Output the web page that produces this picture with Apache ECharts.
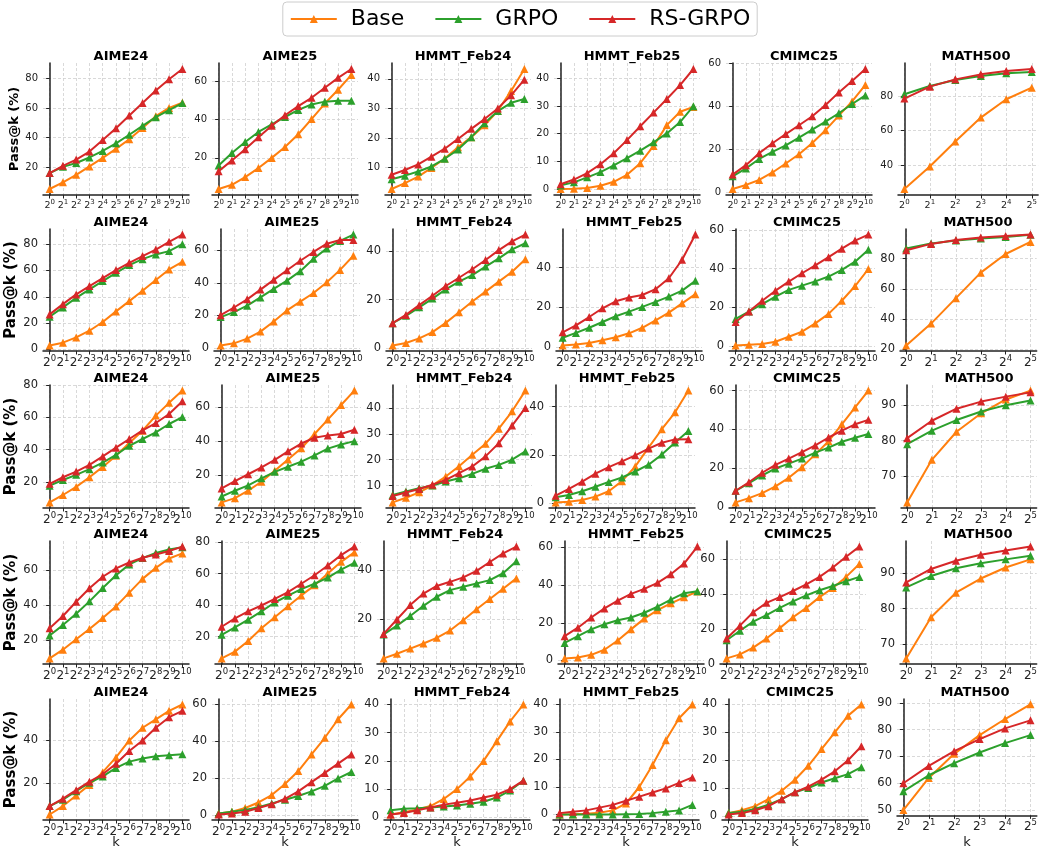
<!DOCTYPE html>
<html>
<head>
<meta charset="utf-8">
<title>Pass@k</title>
<script src="https://cdn.jsdelivr.net/npm/echarts@6/dist/echarts.min.js"></script>
<style>
html, body { margin: 0; padding: 0; background: #fff; }
#main { width: 1040px; height: 850px; }
</style>
</head>
<body>
<div id="main"></div>
<script>
var benchmarks = ['AIME24', 'AIME25', 'HMMT_Feb24', 'HMMT_Feb25', 'CMIMC25', 'MATH500'];
var methods = ['Base', 'GRPO', 'RS-GRPO'];
var colors = ['#ff7f0e', '#2ca02c', '#d62728'];
var kExp = [0, 1, 2, 3, 4, 5, 6, 7, 8, 9, 10];     // k = 2^n
var kExpMath = [0, 1, 2, 3, 4, 5];

// row 1
var row1Base = [
  [5.5, 10, 15, 20.7, 26.4, 32.5, 39, 46.5, 54.5, 60, 63.5],
  [3.8, 6, 10, 14.7, 20, 25.7, 32.3, 40.2, 48.3, 55.5, 63.2],
  [2.8, 4.8, 7, 9.9, 13.1, 16.9, 20.3, 24.3, 29.2, 35.9, 43.3],
  [0.1, 0.2, 0.5, 1.3, 2.7, 5.2, 9.4, 15.6, 23.1, 27.9, 29.6],
  [1.5, 3.4, 5.7, 9.2, 13.4, 17.7, 22.9, 28.9, 35.7, 42.3, 50],
  [26.2, 39.2, 53.7, 67.5, 78.1, 84.8]
];
var row1Grpo = [
  [16.2, 20.4, 23, 26.7, 31.1, 36.2, 42, 48, 53.8, 58.5, 63.3],
  [16, 22.5, 28.3, 33.5, 37.5, 41.3, 45, 47.8, 49.3, 49.8, 49.8],
  [6.1, 7.3, 8.7, 10.4, 13, 16.1, 20.3, 25, 29.1, 31.9, 33.2],
  [1.4, 2.5, 4.3, 6.2, 8.6, 11.2, 13.9, 16.9, 20.1, 24.2, 29.9],
  [7.4, 11.1, 15.5, 18.8, 21.8, 25.4, 29.2, 32.9, 36.8, 41.1, 45.1],
  [81, 85.8, 89.2, 91.5, 93.1, 93.8]
];
var row1Rs = [
  [16.2, 21.1, 25.3, 30.7, 38.4, 46.4, 54.9, 63.3, 71.8, 79.3, 86.2],
  [13, 18.7, 24.5, 30.8, 36.7, 42.2, 47, 51.3, 56.5, 61.7, 66.3],
  [7.6, 9.2, 11.1, 13.7, 16.4, 19.7, 23.1, 26.4, 30, 34.4, 39.7],
  [1.8, 3.5, 5.8, 9, 13, 17.7, 22.7, 27.6, 32.5, 37.5, 43.3],
  [8.2, 12.6, 18.2, 22.8, 27.1, 31.2, 35.4, 40.6, 46.5, 51.8, 57.4],
  [78.5, 85.4, 89.6, 92.5, 94.4, 95.6]
];
var row1Ticks = [[20, 40, 60, 80], [20, 40, 60], [10, 20, 30, 40], [0, 10, 20, 30, 40], [0, 20, 40, 60], [40, 60, 80]];

// row 2
var row2Base = [
  [3, 5.1, 9.1, 14.2, 20.8, 28.9, 36.7, 44.6, 52.7, 60.8, 66.6],
  [1.6, 2.9, 5.8, 10.1, 16.3, 23.1, 28.5, 33.8, 40.4, 48, 56.7],
  [1.1, 2.1, 4, 6.6, 10.4, 14.8, 19.2, 23.3, 27.4, 31.5, 36.6],
  [0.8, 1.3, 2, 3.4, 4.9, 6.9, 9.7, 13.4, 17.3, 22, 26.6],
  [0.3, 0.7, 1, 2.2, 4.8, 7.4, 11.7, 16.6, 23.4, 31, 39.8],
  [22.4, 36.9, 53.8, 70.7, 83.1, 91.1]
];
var row2Grpo = [
  [24.8, 31.9, 39.2, 45.6, 51.9, 58.2, 64.1, 68.6, 72.2, 74.7, 80],
  [19, 22.1, 26, 31.1, 36.3, 41.4, 47.2, 54.8, 61.2, 65.8, 69.7],
  [10.3, 13.3, 16.8, 20.4, 24.2, 27.4, 30.1, 33.6, 37, 40.7, 43.2],
  [4.7, 7.1, 9.7, 12.6, 15.5, 17.8, 20.2, 22.7, 25.4, 28.4, 33.3],
  [14, 17.8, 21.6, 25.5, 29, 31.2, 33.4, 35.9, 39.3, 43.6, 49.7],
  [86.7, 90, 92, 93.3, 94.4, 95.8]
];
var row2Rs = [
  [26.6, 34.4, 41.8, 48.1, 54.2, 60.3, 65.8, 70.9, 75.9, 81.8, 87.3],
  [20.2, 24.9, 29.9, 35.9, 41.9, 47.8, 53.6, 59, 64.1, 66.4, 66.4],
  [10.3, 13.7, 17.7, 21.6, 25.6, 29, 32.5, 36.3, 40.4, 44, 46.8],
  [7.4, 10.9, 15.1, 19.5, 23, 24.9, 26.2, 29.1, 34.6, 43.9, 56.6],
  [12.4, 17.8, 23.4, 28.6, 33.3, 37.6, 41.7, 45.9, 50.3, 54.5, 57.6],
  [85.6, 89.8, 92.4, 94, 95.1, 96]
];
var row2Ticks = [[0, 20, 40, 60, 80], [0, 20, 40, 60], [0, 20, 40], [0, 20, 40], [0, 20, 40, 60], [20, 40, 60, 80]];

// row 3
var row3Base = [
  [7.3, 11.9, 16.9, 22.9, 29.3, 36.2, 44.1, 51.7, 61.1, 69, 76.6],
  [3.8, 6.3, 10.7, 16, 22.4, 29.1, 35.7, 44.1, 52.6, 61.2, 69.7],
  [3.5, 5.3, 7.4, 10.1, 13.5, 17.5, 21.9, 26.2, 32, 38.7, 46.7],
  [0.3, 0.6, 1.3, 2.7, 4.9, 9.1, 15.2, 23, 30.6, 37.6, 46.6],
  [2.3, 4.5, 7.1, 10.6, 15, 20.5, 27.1, 33.9, 42.6, 51.3, 60],
  [62.6, 74.6, 82.5, 87.7, 91.6, 94.1]
];
var row3Grpo = [
  [17.7, 21.2, 24.4, 27.9, 32, 36.8, 42.4, 46.6, 50.7, 55.9, 60.2],
  [7.3, 10.7, 13.8, 18, 21.8, 24.8, 27.8, 31.5, 35.5, 37.9, 39.9],
  [6.4, 7.7, 9, 10, 11.6, 12.8, 14.5, 16.5, 18, 20, 23.2],
  [2.4, 3.4, 4.9, 6.8, 8.8, 10.6, 13.1, 15.9, 20.1, 25.1, 29.9],
  [8.3, 12.2, 16.2, 19.8, 22.3, 24.9, 28, 30.6, 33.6, 35.7, 37.6],
  [79, 82.8, 85.8, 88.2, 90, 91.3]
];
var row3Rs = [
  [18.8, 22.9, 26.4, 30.6, 35.8, 41.2, 46.6, 52, 56.5, 62.1, 70],
  [12, 16.4, 20.4, 24.4, 28.9, 33.9, 38.5, 41.9, 43.3, 44.1, 46.6],
  [6, 7.3, 8.7, 10.3, 12.2, 14.8, 17.4, 21.3, 26.4, 33.2, 40],
  [3.1, 5.9, 8.9, 12.2, 14.9, 17.3, 19.8, 22.6, 25, 26.4, 26.5],
  [8.3, 12.7, 17.6, 21.7, 24.9, 28.2, 31.7, 35.8, 39.3, 42.6, 44.9],
  [80.7, 85.6, 89, 91, 92.4, 93.6]
];
var row3Ticks = [[20, 40, 60, 80], [20, 40, 60], [10, 20, 30, 40], [0, 20, 40], [0, 20, 40, 60], [70, 80, 90]];

// row 4
var row4Base = [
  [9.4, 14.4, 20.4, 26.3, 32.5, 39.2, 47.1, 55, 61.3, 66.7, 69.6],
  [6.1, 10.4, 17.2, 25.3, 32.2, 39.2, 46.1, 52.5, 60, 67.4, 73.4],
  [3.8, 5.7, 7.8, 9.9, 12.2, 15.2, 19.4, 23.9, 28.1, 32.3, 36.5],
  [1.1, 1.6, 3, 5.7, 10.6, 16.5, 22.2, 26.7, 30.3, 33.5, 36.6],
  [3.1, 5.4, 9.3, 14.5, 20.5, 26.7, 32.1, 38.3, 43.5, 49.9, 57.3],
  [66, 77.6, 84.5, 88.5, 91.6, 93.9]
];
var row4Grpo = [
  [22.5, 28.5, 35, 42.1, 49.8, 57.1, 63.3, 66.9, 69.8, 71.9, 73.1],
  [21.1, 25.8, 30.7, 36, 41.6, 45.9, 50.1, 53.5, 57.4, 62.5, 66.8],
  [13.6, 17.2, 21.1, 25.3, 29, 31.7, 33.1, 34.4, 35.8, 38.6, 43.5],
  [9.3, 12.9, 16.5, 19.2, 21.3, 22.8, 25.3, 28.5, 32.3, 35.7, 36.7],
  [13.5, 19, 24.2, 28, 32.1, 35.8, 39.3, 42.2, 44.7, 47.4, 49.9],
  [86, 89.2, 91.4, 92.8, 93.9, 94.9]
];
var row4Rs = [
  [26.7, 33.7, 41.9, 49.6, 56.2, 61, 64.4, 67.1, 69, 71, 73.5],
  [26.2, 31.5, 36, 39.7, 43.9, 48.2, 53.5, 58.9, 65.1, 71.7, 77.1],
  [13.8, 19.7, 25.6, 30.3, 33.4, 35.1, 36.9, 39.6, 43.2, 46.7, 49.5],
  [12.9, 17.4, 22.8, 27.6, 31.7, 35.3, 38, 41.2, 45.7, 51.4, 60.4],
  [14.5, 21.9, 29.6, 35, 38.3, 41.8, 45.6, 49.9, 55.3, 61.5, 67.3],
  [87.4, 91.2, 93.5, 95.2, 96.4, 97.5]
];
var row4Ticks = [[20, 40, 60], [20, 40, 60, 80], [20, 40], [0, 20, 40, 60], [0, 20, 40, 60], [70, 80, 90]];

// row 5
var row5Base = [
  [5, 9, 14, 19, 25, 32, 40, 46, 50, 54, 57],
  [1, 2, 4, 7, 11, 17, 24, 33, 42, 52, 60],
  [1, 1.8, 2.8, 4, 6.5, 10, 14.5, 20, 27, 34, 40],
  [0, 0.1, 0.3, 0.6, 1.5, 4, 10, 18, 27, 35, 40],
  [1, 2, 3.5, 6, 9, 13, 18, 24, 30, 36, 40],
  [50, 62, 71, 78, 84, 89.5]
];
var row5Grpo = [
  [9, 12, 16, 20, 23, 27, 30, 31.5, 32.5, 33, 33.5],
  [1, 2, 3, 4.5, 6.5, 8.5, 10.5, 13, 16, 20, 23.5],
  [2.5, 3, 3.2, 3.5, 3.8, 4.2, 4.8, 5.5, 7, 9.5, 13],
  [0, 0, 0, 0, 0, 0.1, 0.2, 0.5, 1, 1.5, 3.5],
  [1, 1.5, 2.5, 4, 6, 8.5, 10, 12, 13.5, 15, 17.5],
  [57, 63, 67.5, 71.5, 75, 78]
];
var row5Rs = [
  [9, 12.5, 16.5, 20.5, 24, 29, 35, 40, 46, 51, 54],
  [0.5, 1, 2, 4, 6, 9, 13, 18, 23, 28, 33],
  [1, 1.5, 2.5, 3.5, 4.5, 5.2, 6, 7, 8, 10, 13],
  [0.5, 1, 1.5, 2.5, 3.5, 5, 6.5, 8, 9.5, 11.5, 13.5],
  [0.5, 1, 2, 3.5, 6, 8.5, 10.5, 13, 16, 20, 25],
  [60, 66.5, 72, 76.5, 80.5, 83.5]
];
var row5Ticks = [[20, 40], [0, 20, 40, 60], [0, 10, 20, 30, 40], [0, 10, 20, 30, 40], [0, 10, 20, 30, 40], [50, 60, 70, 80, 90]];

var rows = [
  { sets: [row1Base, row1Grpo, row1Rs], ticks: row1Ticks },
  { sets: [row2Base, row2Grpo, row2Rs], ticks: row2Ticks },
  { sets: [row3Base, row3Grpo, row3Rs], ticks: row3Ticks },
  { sets: [row4Base, row4Grpo, row4Rs], ticks: row4Ticks },
  { sets: [row5Base, row5Grpo, row5Rs], ticks: row5Ticks }
];

// layout
var rowTop = [63, 229, 385, 541, 699];
var rowHeight = [132, 122, 123, 123, 121];
var colLeft = [
  [43, 212, 385, 554, 726, 898],
  [43, 214, 386, 556, 729, 900],
  [43, 215, 386, 549, 729, 901],
  [43, 215, 377, 558, 720, 900],
  [43, 212, 384, 553, 722, 897]
];
var colWidth = 146;
var FONT = 'DejaVu Sans';
var INK = '#222';

var grids = [], xAxes = [], yAxes = [], titles = [], series = [];

function powLabel(v) { return '{b|2}{s|' + v + '}'; }

rows.forEach(function (row, r) {
  var small = r === 0;
  var yFont = small ? 10 : 11.5;
  var xb = small ? 9.5 : 12, xs = small ? 7 : 8.5;
  var rich = {
    b: { fontFamily: FONT, fontSize: xb, color: INK, lineHeight: xb + 3 },
    s: { fontFamily: FONT, fontSize: xs, color: INK, lineHeight: xs - 1, padding: [0, 0, xb + 4 - xs, 0] }
  };
  benchmarks.forEach(function (name, c) {
    var idx = grids.length;
    var isMath = c === 5;
    var kx = isMath ? kExpMath : kExp;
    var all = [];
    row.sets.forEach(function (s) { all = all.concat(s[c]); });
    var lo = Math.min.apply(null, all), hi = Math.max.apply(null, all);
    var pad = (hi - lo) * 0.05;
    var left = colLeft[r][c];

    grids.push({ left: left, top: rowTop[r], width: colWidth, height: rowHeight[r], containLabel: false });

    titles.push({
      text: name,
      left: left + colWidth / 2,
      top: rowTop[r] - 18,
      textAlign: 'center',
      textStyle: { fontFamily: FONT, fontSize: 13, fontWeight: 'bold', color: '#000' }
    });

    var xPad = isMath ? 0.25 : 0.5;
    var xIndex = xAxes.length;
    xAxes.push({
      type: 'value',
      gridIndex: idx,
      position: 'bottom',
      min: -xPad,
      max: kx[kx.length - 1] + xPad,
      name: r === 4 ? 'k' : '',
      nameLocation: 'middle',
      nameGap: 16,
      nameTextStyle: { fontFamily: FONT, fontSize: 13, color: INK, verticalAlign: 'top' },
      axisLine: { show: true, onZero: false, lineStyle: { color: INK, width: 1.5 } },
      axisTick: { show: true, length: 3.5, customValues: kx, lineStyle: { color: INK, width: 1 } },
      axisLabel: {
        show: isMath,
        customValues: kx,
        margin: 4,
        formatter: powLabel,
        rich: rich
      },
      splitLine: { show: true, lineStyle: { color: '#cfcfcf', width: 0.8, type: [3, 2] } }
    });
    if (!isMath) {
      // label-only category axis: band centres sit on the same k positions
      xAxes.push({
        type: 'category',
        gridIndex: idx,
        position: 'bottom',
        data: kx,
        boundaryGap: true,
        axisLine: { show: false },
        axisTick: { show: false },
        splitLine: { show: false },
        axisLabel: { interval: 0, margin: 4, formatter: powLabel, rich: rich }
      });
    }

    yAxes.push({
      type: 'value',
      gridIndex: idx,
      min: lo - pad,
      max: hi + pad,
      name: c === 0 ? 'Pass@k (%)' : '',
      nameLocation: 'middle',
      nameRotate: 90,
      nameGap: small ? 22 : 24,
      nameTextStyle: { fontFamily: FONT, fontSize: small ? 13 : 15, fontWeight: 'bold', color: '#000' },
      axisLine: { show: true, lineStyle: { color: INK, width: 1.5 } },
      axisTick: { show: true, length: 3.5, customValues: row.ticks[c], lineStyle: { color: INK, width: 1 } },
      axisLabel: { customValues: row.ticks[c], margin: 5, fontFamily: FONT, fontSize: yFont, color: INK },
      splitLine: { show: true, lineStyle: { color: '#cfcfcf', width: 0.8, type: [3, 2] } }
    });

    row.sets.forEach(function (set, m) {
      series.push({
        name: methods[m],
        type: 'line',
        xAxisIndex: xIndex,
        yAxisIndex: idx,
        data: set[c].map(function (v, i) { return [kx[i], v]; }),
        symbol: 'triangle',
        symbolSize: 8,
        showAllSymbol: true,
        lineStyle: { width: 2, color: colors[m] },
        itemStyle: { color: colors[m] },
        z: 2 + m
      });
    });
  });
});

var chart = echarts.init(document.getElementById('main'), null, { renderer: 'canvas' });
chart.setOption({
  animation: false,
  title: titles,
  legend: {
    data: methods,
    top: 2,
    left: 'center',
    itemWidth: 46,
    itemHeight: 10,
    itemGap: 30,
    padding: [6, 7, 6, 7],
    borderColor: '#cccccc',
    borderWidth: 1,
    borderRadius: 4,
    textStyle: { fontFamily: FONT, fontSize: 22, color: '#000', padding: [0, 0, 0, 9] }
  },
  grid: grids,
  xAxis: xAxes,
  yAxis: yAxes,
  series: series
});
</script>
</body>
</html>
